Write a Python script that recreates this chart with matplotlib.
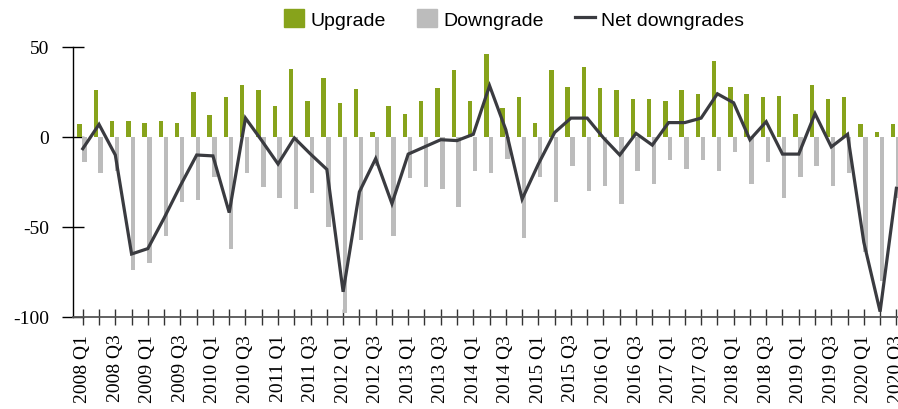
import numpy as np
import matplotlib
matplotlib.use("Agg")
import matplotlib.pyplot as plt
from matplotlib.patches import Patch
from matplotlib.lines import Line2D

# quarters 2008 Q1 .. 2020 Q3
quarters = [f"{y} Q{q}" for y in range(2008, 2021) for q in range(1, 5)][:51]

upgrade = [7, 26, 9, 9, 8, 9, 8, 25, 12, 22,
           29, 26, 17, 38, 20, 33, 19, 26.5, 3, 17,
           13, 20, 27, 37, 20, 46, 16, 22, 8, 37,
           28, 39, 27, 26, 21, 21, 20, 26, 24, 42,
           28, 24, 22, 23, 13, 29, 21, 22, 7, 3, 7]

downgrade = [14, 20, 19, 74, 70, 55, 36, 35, 22, 62,
             20, 28, 34, 40, 31, 50, 98, 57, 16, 55,
             23, 28, 29, 39, 19, 20, 12, 56, 22, 36,
             16, 30, 27, 37, 19, 26, 13, 18, 13, 19,
             8.5, 26, 14, 34, 22, 16, 27, 20, 64, 80, 34]

net = [-6.5, 7, -10, -65, -62, -45, -27, -10, -10.5, -42,
       10.5, -2, -15, -0.5, -9.5, -18, -86, -30.5, -12, -37,
       -9.5, -5.5, -1.5, -2, 1.5, 28.5, 4, -34.5, -15, 2.5,
       10.5, 10.5, -0.5, -10, 2, -4.5, 8, 8, 10.5, 24,
       19, -1.5, 8.5, -9.5, -9.5, 13, -5.5, 1.5, -58.5, -97, -28.5]

GREEN = "#87a31b"
GREY = "#bcbcbc"
DARK = "#3a3b40"

fig = plt.figure(figsize=(8.98, 4.10), dpi=100)
ax = fig.add_axes([73 / 898, 1 - 318 / 410, 825 / 898, 270 / 410])

x = np.arange(len(quarters))
w = 0.27
ax.bar(x - 0.2, upgrade, width=w, color=GREEN, zorder=2)
ax.bar(x + 0.1, -np.array(downgrade), width=w, color=GREY, zorder=2)
ax.plot(x, net, color=DARK, lw=2.3, zorder=3, solid_joinstyle="miter")

ax.set_xlim(-0.6, 50.1)
ax.set_ylim(-100, 50)

for s in ["top", "right"]:
    ax.spines[s].set_visible(False)
ax.spines["left"].set_color("black")
ax.spines["left"].set_linewidth(1.0)
ax.spines["bottom"].set_color("#555555")
ax.spines["bottom"].set_linewidth(1.3)

serif = "Liberation Serif"
ax.set_yticks([50, 0, -50, -100])
ax.set_yticklabels(["50", "0", "-50", "-100"], fontsize=14, family=serif)
ax.tick_params(axis="y", direction="inout", length=16, width=1.0, pad=9, color="black")

ax.set_xticks(x)
ax.set_xticklabels([q if i % 2 == 0 else "" for i, q in enumerate(quarters)],
                   rotation=90, fontsize=14, family=serif)
ax.tick_params(axis="x", direction="inout", length=12, width=1.0, pad=6, color="#333333")

handles = [Patch(color=GREEN), Patch(color=GREY), Line2D([], [], color=DARK, lw=2.3)]
fig.legend(handles, ["Upgrade", "Downgrade", "Net downgrades"],
           loc="center", bbox_to_anchor=(514 / 898, 1 - 20 / 410), ncol=3,
           frameon=False, prop={"family": "Liberation Sans", "size": 14},
           handlelength=1.05, handleheight=1.05, handletextpad=0.3, columnspacing=1.6)

fig.savefig("out.png", dpi=100)
